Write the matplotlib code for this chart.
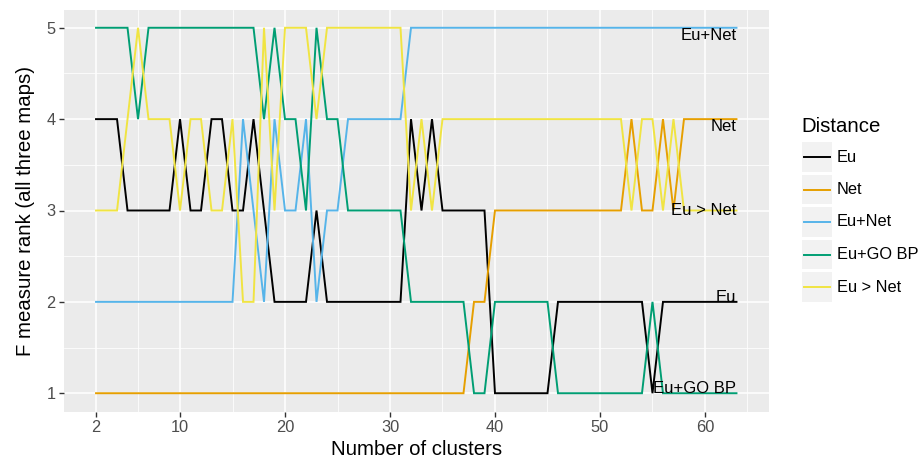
import matplotlib
matplotlib.use("Agg")
import matplotlib.pyplot as plt
from matplotlib.patches import Rectangle

plt.rcParams['font.family'] = ['Liberation Sans', 'DejaVu Sans']

# number of clusters
clusters = list(range(2, 64))

# rank of each distance (1..5) for clusters 2..63
eu = [4, 4, 4, 3, 3, 3, 3, 3, 4, 3, 3, 4, 4, 3, 3, 4, 3, 2, 2, 2,
      2, 3, 2, 2, 2, 2, 2, 2, 2, 2, 4, 3, 4, 3, 3, 3, 3, 3, 1, 1,
      1, 1, 1, 1, 2, 2, 2, 2, 2, 2, 2, 2, 2, 1, 2, 2, 2, 2, 2, 2,
      2, 2]
net = [1, 1, 1, 1, 1, 1, 1, 1, 1, 1, 1, 1, 1, 1, 1, 1, 1, 1, 1, 1,
       1, 1, 1, 1, 1, 1, 1, 1, 1, 1, 1, 1, 1, 1, 1, 1, 2, 2, 3, 3,
       3, 3, 3, 3, 3, 3, 3, 3, 3, 3, 3, 4, 3, 3, 4, 3, 4, 4, 4, 4,
       4, 4]
eu_net = [2, 2, 2, 2, 2, 2, 2, 2, 2, 2, 2, 2, 2, 2, 4, 3, 2, 4, 3, 3,
          4, 2, 3, 3, 4, 4, 4, 4, 4, 4, 5, 5, 5, 5, 5, 5, 5, 5, 5, 5,
          5, 5, 5, 5, 5, 5, 5, 5, 5, 5, 5, 5, 5, 5, 5, 5, 5, 5, 5, 5,
          5, 5]
eu_go = [5, 5, 5, 5, 4, 5, 5, 5, 5, 5, 5, 5, 5, 5, 5, 5, 4, 5, 4, 4,
         3, 5, 4, 4, 3, 3, 3, 3, 3, 3, 2, 2, 2, 2, 2, 2, 1, 1, 2, 2,
         2, 2, 2, 2, 1, 1, 1, 1, 1, 1, 1, 1, 1, 2, 1, 1, 1, 1, 1, 1,
         1, 1]
eu_gt_net = [3, 3, 3, 4, 5, 4, 4, 4, 3, 4, 4, 3, 3, 4, 2, 2, 5, 3, 5, 5,
             5, 4, 5, 5, 5, 5, 5, 5, 5, 5, 3, 4, 3, 4, 4, 4, 4, 4, 4, 4,
             4, 4, 4, 4, 4, 4, 4, 4, 4, 4, 4, 3, 4, 4, 3, 4, 3, 3, 3, 3,
             3, 3]

names = ["Eu", "Net", "Eu+Net", "Eu+GO BP", "Eu > Net"]
series = [eu, net, eu_net, eu_go, eu_gt_net]
colors = ["#000000", "#E69F00", "#56B4E9", "#009E73", "#F0E442"]

# end-of-line labels
end_labels = ["Eu+Net", "Net", "Eu > Net", "Eu", "Eu+GO BP"]
end_label_y = [5, 4, 3, 2, 1]
end_label_va = ["top", "top", "center", "baseline", "baseline"]

W, H = 921, 463
fig = plt.figure(figsize=(W / 100, H / 100), dpi=100)
ax = fig.add_axes([64 / W, 1 - 411.5 / H, (768.5 - 64) / W, (411.5 - 9.5) / H])
ax.set_facecolor("#EBEBEB")
for s in ax.spines.values():
    s.set_visible(False)

ax.set_xlim(2 - 0.05 * 61, 63 + 0.05 * 61)
ax.set_ylim(1 - 0.2, 5 + 0.2)
ax.set_xticks([2, 10, 20, 30, 40, 50, 60])
ax.set_yticks([1, 2, 3, 4, 5])
ax.set_xticks([6, 15, 25, 35, 45, 55, 64], minor=True)
ax.set_yticks([1.5, 2.5, 3.5, 4.5], minor=True)
ax.grid(True, which="major", color="white", lw=1.1)
ax.grid(True, which="minor", color="white", lw=0.55)
ax.set_axisbelow(True)
ax.tick_params(which="major", length=3.5, width=1, color="#333333",
               labelsize=11.8, labelcolor="#4D4D4D", pad=2.5)
ax.tick_params(which="minor", length=0)

for name, vals, c in zip(names, series, colors):
    ax.plot(clusters, vals, color=c, lw=1.4, label=name, solid_joinstyle="miter")

for txt, y, va in zip(end_labels, end_label_y, end_label_va):
    ax.text(clusters[-1], y, txt, ha="right", va=va, fontsize=12, color="black")

ax.set_xlabel("Number of clusters", fontsize=14.7, labelpad=4)
ax.set_ylabel("F measure rank (all three maps)", fontsize=14.7, labelpad=8)

# legend drawn in pixel space
lg = fig.add_axes([0, 0, 1, 1], facecolor="none")
lg.set_xlim(0, W)
lg.set_ylim(H, 0)
lg.axis("off")
lg.text(801.5, 127, "Distance", fontsize=14.7, va="center", ha="left")
for i, (name, c) in enumerate(zip(names, colors)):
    yc = 157 + i * 32.5
    lg.add_patch(Rectangle((802, yc - 14.75), 30, 29.5, facecolor="#F2F2F2", edgecolor="none"))
    lg.plot([804, 829.5], [yc, yc], color=c, lw=1.4)
    lg.text(837, yc, name, fontsize=11.8, va="center", ha="left")

fig.savefig("out.png", dpi=100)
